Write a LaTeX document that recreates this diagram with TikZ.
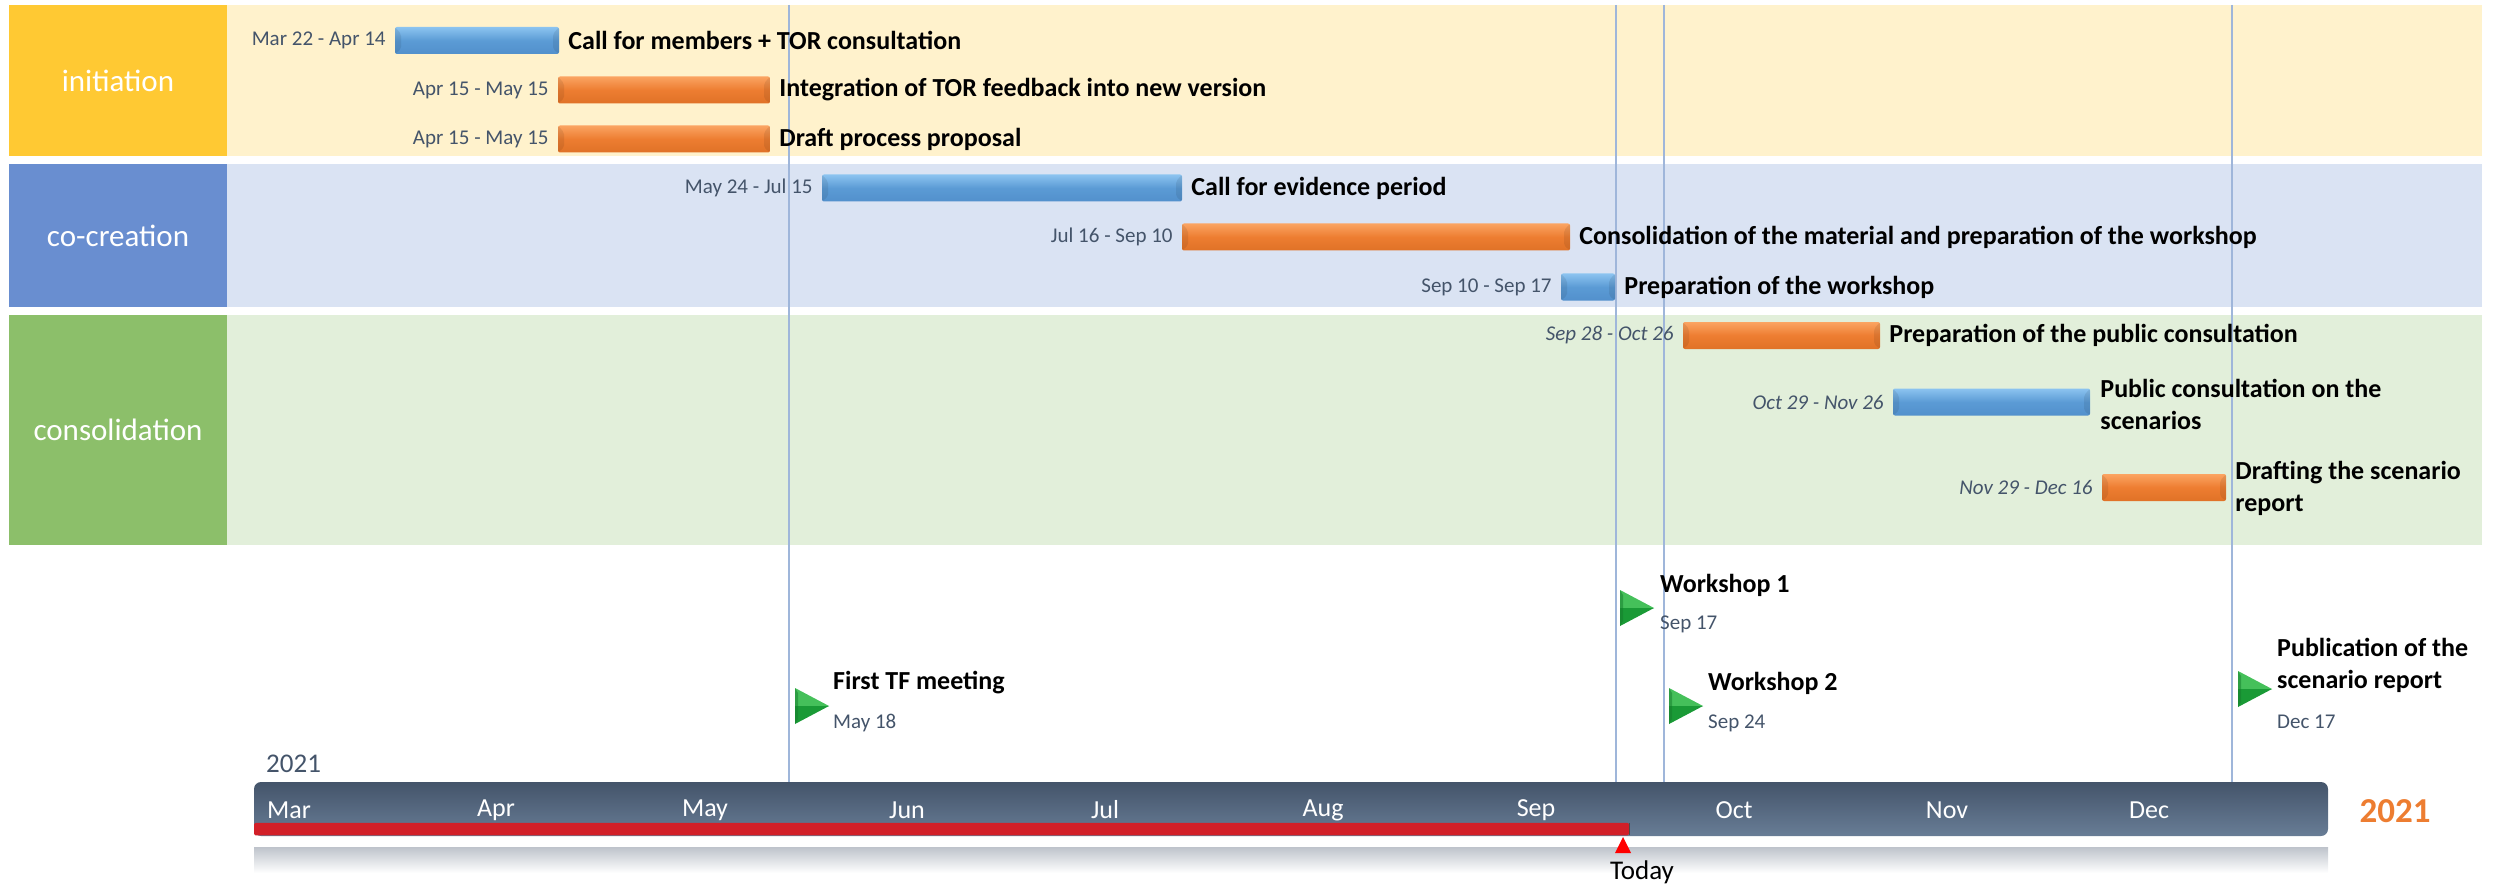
\documentclass[tikz,border=0pt]{standalone}
\usepackage{fontspec}
\setmainfont{Carlito}
\usetikzlibrary{positioning}
\definecolor{yelBox}{HTML}{FFC933}
\definecolor{yelBand}{HTML}{FFF2CC}
\definecolor{bluBox}{HTML}{698ED0}
\definecolor{bluBand}{HTML}{DAE3F3}
\definecolor{grnBox}{HTML}{8CBF6A}
\definecolor{grnBand}{HTML}{E2EFDA}
\definecolor{vline}{HTML}{9FB6DA}
\definecolor{slate}{HTML}{44546A}
\definecolor{slateL}{HTML}{687D96}
\definecolor{barB}{HTML}{5B9BD5}
\definecolor{barBL}{HTML}{8CC4F0}
\definecolor{barBD}{HTML}{5290CC}
\definecolor{barO}{HTML}{ED7D31}
\definecolor{barOL}{HTML}{FBA462}
\definecolor{barOD}{HTML}{E07227}
\definecolor{redP}{HTML}{D21F28}
\definecolor{gTop}{HTML}{45C05A}
\definecolor{gBot}{HTML}{1A9A36}
\definecolor{orgT}{HTML}{ED7D31}
\begin{document}
\begin{tikzpicture}[x=1pt,y=-1pt,
  catbox/.style={inner sep=0, text=white, font=\fontsize{31}{36}\selectfont},
  band/.style={inner sep=0, draw=none},
  bevel/.style={path picture={
     \fill[black,opacity=0.08] (path picture bounding box.north west) -- ([xshift=6,yshift=-7]path picture bounding box.north west) -- ([xshift=6,yshift=5]path picture bounding box.south west) -- (path picture bounding box.south west) -- cycle;
     \fill[black,opacity=0.08] (path picture bounding box.north east) -- ([xshift=-6,yshift=-7]path picture bounding box.north east) -- ([xshift=-6,yshift=5]path picture bounding box.south east) -- (path picture bounding box.south east) -- cycle;
  }},
  bluebar/.style={inner sep=0, minimum height=27, rounded corners=2,
     top color=barBL, bottom color=barBD, middle color=barB},
  orangebar/.style={inner sep=0, minimum height=27, rounded corners=2,
     top color=barOL, bottom color=barOD, middle color=barO},
  task/.style={inner sep=0, anchor=west, align=left,
     font=\fontsize{26}{32}\selectfont\bfseries},
  dlabel/.style={inner sep=0, anchor=east, text=slate,
     font=\fontsize{21}{25}\selectfont},
  ilabel/.style={inner sep=0, anchor=east, text=slate,
     font=\fontsize{21}{25}\selectfont\itshape},
  mdate/.style={inner sep=0, anchor=west, text=slate,
     font=\fontsize{21}{25}\selectfont},
  month/.style={inner sep=0, text=white, font=\fontsize{26}{30}\selectfont},
  guide/.style={draw=vline, line width=1.6},
  pics/milestone/.style={code={
     \fill[gTop] (0,-18) -- (34,0) -- (0,0) -- cycle;
     \fill[gBot] (0,18) -- (34,0) -- (0,0) -- cycle;
     \fill[gBot!80!black,opacity=0.5] (0,-18) -- (3,-13) -- (3,13) -- (0,18) -- cycle;
  }}
]
\useasboundingbox (0,0) rectangle (2494,885);

% ---------- swimlane bands ----------
\node[band, fill=yelBand, minimum width=2255, minimum height=151] (bandA) at (1354.5,80.5) {};
\node[band, fill=bluBand, minimum width=2255, minimum height=143] (bandB) at (1354.5,235.5) {};
\node[band, fill=grnBand, minimum width=2255, minimum height=230] (bandC) at (1354.5,430) {};
\node[band, fill=yelBox, minimum width=218, minimum height=151] (catA) at (118,80.5) {};
\node[band, fill=bluBox, minimum width=218, minimum height=143] (catB) at (118,235.5) {};
\node[band, fill=grnBox, minimum width=218, minimum height=230] (catC) at (118,430) {};
\node[catbox] (catAt) at (catA) {initiation};
\node[catbox] (catBt) at (catB) {co-creation};
\node[catbox] (catCt) at (catC) {consolidation};

% ---------- guide lines ----------
\coordinate (g1t) at (789,5);   \coordinate (g1b) at (789,783);
\coordinate (g2t) at (1616,5);  \coordinate (g2b) at (1616,783);
\coordinate (g3t) at (1664,5);  \coordinate (g3b) at (1664,783);
\coordinate (g4t) at (2232,5);  \coordinate (g4b) at (2232,783);
\draw[guide] (g1t) -- (g1b);
\draw[guide] (g2t) -- (g2b);
\draw[guide] (g3t) -- (g3b);
\draw[guide] (g4t) -- (g4b);

% ---------- task bars ----------
\node[bluebar, bevel, minimum width=164] (t1) at (477,40.5) {};
\node[orangebar, bevel, minimum width=212] (t2) at (664,90) {};
\node[orangebar, bevel, minimum width=212] (t3) at (664,139) {};
\node[bluebar, bevel, minimum width=360] (t4) at (1002,188) {};
\node[orangebar, bevel, minimum width=388] (t5) at (1376,237) {};
\node[bluebar, bevel, minimum width=54] (t6) at (1588,287) {};
\node[orangebar, bevel, minimum width=197] (t7) at (1781.5,335.5) {};
\node[bluebar, bevel, minimum width=197] (t8) at (1991.5,402) {};
\node[orangebar, bevel, minimum width=124] (t9) at (2164,487.5) {};

\node[task] (l1) at ([xshift=9]t1.east) {Call for members + TOR consultation};
\node[task] (l2) at ([xshift=9]t2.east) {Integration of TOR feedback into new version};
\node[task] (l3) at ([xshift=9]t3.east) {Draft process proposal};
\node[task] (l4) at ([xshift=9]t4.east) {Call for evidence period};
\node[task] (l5) at ([xshift=9]t5.east) {Consolidation of the material and preparation of the workshop};
\node[task] (l6) at ([xshift=9]t6.east) {Preparation of the workshop};
\node[task] (l7) at ([xshift=9]t7.east) {Preparation of the public consultation};
\node[task] (l8) at ([xshift=10,yshift=-2]t8.east) {Public consultation on the\\scenarios};
\node[task] (l9) at ([xshift=9,yshift=-1]t9.east) {Drafting the scenario\\report};

\node[dlabel] (d1) at ([xshift=-9]t1.west) {Mar 22 - Apr 14};
\node[dlabel] (d2) at ([xshift=-9]t2.west) {Apr 15 - May 15};
\node[dlabel] (d3) at ([xshift=-9]t3.west) {Apr 15 - May 15};
\node[dlabel] (d4) at ([xshift=-9]t4.west) {May 24 - Jul 15};
\node[dlabel] (d5) at ([xshift=-9]t5.west) {Jul 16 - Sep 10};
\node[dlabel] (d6) at ([xshift=-9]t6.west) {Sep 10 - Sep 17};
\node[ilabel] (d7) at ([xshift=-9]t7.west) {Sep 28 - Oct 26};
\node[ilabel] (d8) at ([xshift=-9]t8.west) {Oct 29 - Nov 26};
\node[ilabel] (d9) at ([xshift=-9]t9.west) {Nov 29 - Dec 16};

% ---------- milestones ----------
\coordinate (m1) at (795,706);
\coordinate (m2) at (1620,608);
\coordinate (m3) at (1669,706);
\coordinate (m4) at (2238,689);
\pic at (m1) {milestone};
\pic at (m2) {milestone};
\pic at (m3) {milestone};
\pic at (m4) {milestone};
\node[task] (ml1) at ([xshift=38,yshift=23]m1) {First TF meeting};
\node[mdate] (md1) at ([xshift=38,yshift=-17]m1) {May 18};
\node[task] (ml2) at ([xshift=40,yshift=23]m2) {Workshop 1};
\node[mdate] (md2) at ([xshift=40,yshift=-16]m2) {Sep 17};
\node[task] (ml3) at ([xshift=39,yshift=23]m3) {Workshop 2};
\node[mdate] (md3) at ([xshift=39,yshift=-17]m3) {Sep 24};
\node[task] (ml4) at ([xshift=39,yshift=23.5]m4) {Publication of the\\scenario report};
\node[mdate] (md4) at ([xshift=39,yshift=-33]m4) {Dec 17};

% ---------- timeline ----------
\node[inner sep=0, anchor=west, text=slate, font=\fontsize{27}{31}\selectfont] (yr) at (266,764) {2021};
\node[inner sep=0, minimum width=2074, minimum height=26, top color=slate!35, bottom color=white] (refl) at (1291,860) {};
\node[inner sep=0, minimum width=2074, minimum height=54, rounded corners=7,
      top color=slate, bottom color=slateL] (tl) at (1291,809) {};
\node[inner sep=0, minimum width=1375, minimum height=12.5, fill=redP,
      rounded corners=1.5] (prog) at (941.5,829) {};
\draw[black!70, line width=1.2] (prog.north east) -- (prog.south east);

\node[month] (mMar) at (289,810) {Mar};
\node[month] (mApr) at (496,810) {Apr};
\node[month] (mMay) at (705,810) {May};
\node[month] (mJun) at (907,810) {Jun};
\node[month] (mJul) at (1105,810) {Jul};
\node[month] (mAug) at (1323,810) {Aug};
\node[month] (mSep) at (1536,810) {Sep};
\node[month] (mOct) at (1734,810) {Oct};
\node[month] (mNov) at (1947,810) {Nov};
\node[month] (mDec) at (2149,810) {Dec};

\node[inner sep=0, text=orgT, font=\fontsize{35}{40}\selectfont\bfseries] (yr2) at (2395,811) {2021};

\coordinate (today) at (1623,837);
\fill[red] (today) -- ++(8,16) -- ++(-16,0) -- cycle;
\node[inner sep=0, font=\fontsize{27}{31}\selectfont] (todayl) at (1642,872) {Today};
\end{tikzpicture}
\end{document}
